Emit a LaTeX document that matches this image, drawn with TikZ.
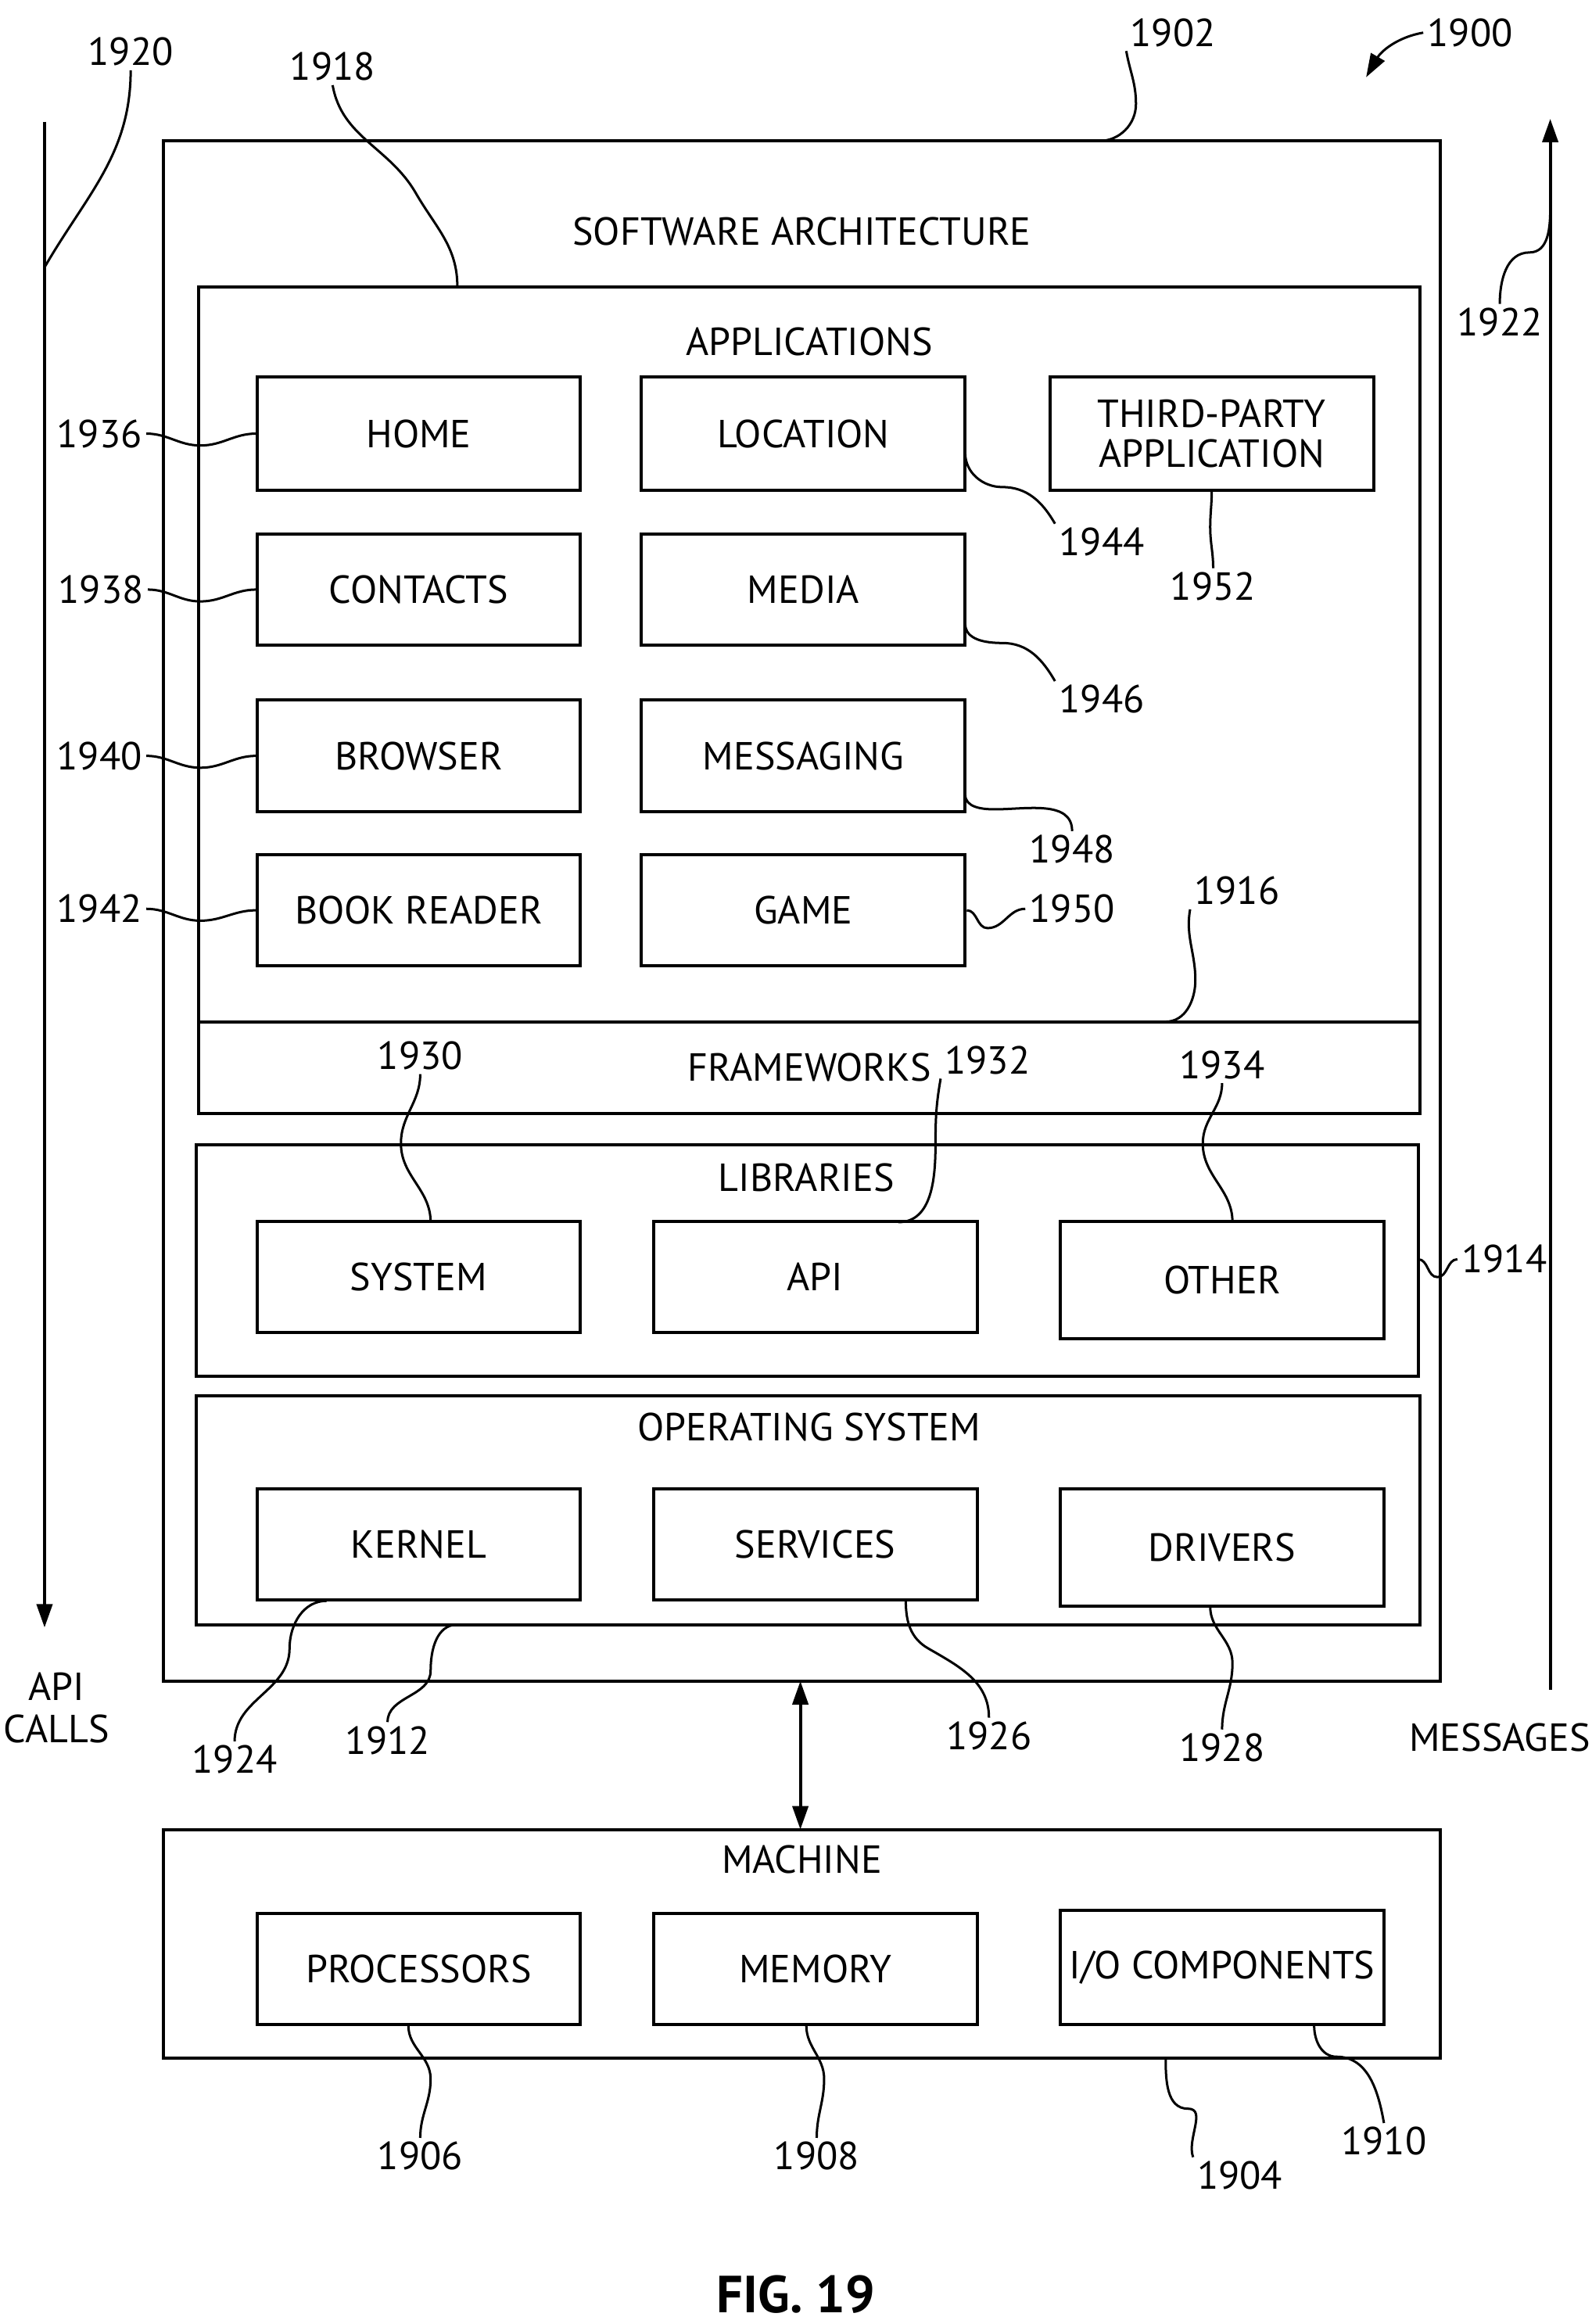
\documentclass[tikz,border=0pt]{standalone}
\usepackage{fontspec}
\setmainfont{PT Sans}
\usetikzlibrary{arrows.meta}
\begin{document}
\begin{tikzpicture}
[x=0.02cm, y=-0.02cm, line width=1.2pt,
 nodes={font=\fontsize{15}{18}\selectfont, align=center},
 blk/.style={draw, inner sep=0pt},
 lab/.style={inner sep=1pt},
 lead/.style={line width=0.9pt},
 >={Triangle[length=9pt,width=6pt]}]
\useasboundingbox (0,0) rectangle (1072,1565);

% outer frames
\draw (110,95) rectangle (970,1132);
\draw (134,193) rectangle (956,750);
\draw (134,688) -- (956,688);
\draw (132,771) rectangle (955,927);
\draw (132,940) rectangle (956,1094);
\draw (110,1232) rectangle (970,1386);

\node at (540,156) {SOFTWARE ARCHITECTURE};
\node at (545,230) {APPLICATIONS};
\node at (545,719) {FRAMEWORKS};
\node at (543,793) {LIBRARIES};
\node at (545,961) {OPERATING SYSTEM};
\node at (540,1252) {MACHINE};

% application boxes
\node[blk, minimum width=217*0.02cm, minimum height=76*0.02cm] (home) at (282,292) {HOME};
\node[blk, minimum width=218*0.02cm, minimum height=76*0.02cm] (loc) at (541,292) {LOCATION};
\node[blk, minimum width=218*0.02cm, minimum height=76*0.02cm] (third) at (816,292) {THIRD-PARTY\\[-3pt]APPLICATION};
\node[blk, minimum width=217*0.02cm, minimum height=75*0.02cm] (cont) at (282,397) {CONTACTS};
\node[blk, minimum width=218*0.02cm, minimum height=75*0.02cm] (media) at (541,397) {MEDIA};
\node[blk, minimum width=217*0.02cm, minimum height=75*0.02cm] (brow) at (282,509) {BROWSER};
\node[blk, minimum width=218*0.02cm, minimum height=75*0.02cm] (msg) at (541,509) {MESSAGING};
\node[blk, minimum width=217*0.02cm, minimum height=75*0.02cm] (book) at (282,613) {BOOK READER};
\node[blk, minimum width=218*0.02cm, minimum height=75*0.02cm] (game) at (541,613) {GAME};

% libraries / os / machine
\node[blk, minimum width=217*0.02cm, minimum height=75*0.02cm] (sys) at (282,860) {SYSTEM};
\node[blk, minimum width=218*0.02cm, minimum height=75*0.02cm] (api) at (549,860) {API};
\node[blk, minimum width=218*0.02cm, minimum height=79*0.02cm] (other) at (823,862) {OTHER};
\node[blk, minimum width=217*0.02cm, minimum height=75*0.02cm] (kern) at (282,1040) {KERNEL};
\node[blk, minimum width=218*0.02cm, minimum height=75*0.02cm] (serv) at (549,1040) {SERVICES};
\node[blk, minimum width=218*0.02cm, minimum height=79*0.02cm] (drv) at (823,1042) {DRIVERS};
\node[blk, minimum width=217*0.02cm, minimum height=75*0.02cm] (proc) at (282,1326) {PROCESSORS};
\node[blk, minimum width=218*0.02cm, minimum height=75*0.02cm] (mem) at (549,1326) {MEMORY};
\node[blk, minimum width=218*0.02cm, minimum height=77*0.02cm] (io) at (823,1325) {I/O COMPONENTS};

% side arrows
\coordinate (apiT) at (30,82);
\coordinate (apiB) at (30,1096);
\coordinate (msgB) at (1044,1138);
\coordinate (msgT) at (1044,80);
\draw[->] (apiT) -- (apiB);
\draw[->] (msgB) -- (msgT);
\node (calls) at (38,1150) {API\\[-2pt]CALLS};
\node (msgs) at (1010,1170) {MESSAGES};
\coordinate (swB) at (539,1132);
\coordinate (mcT) at (539,1232);
\draw[<->] (swB) -- (mcT);

% reference numerals
\node[lab] (n1900) at (990,22) {1900};
\node[lab] (n1902) at (790,22) {1902};
\node[lab] (n1918) at (224,45) {1918};
\node[lab] (n1920) at (88,35) {1920};
\node[lab] (n1922) at (1010,217) {1922};
\node[lab] (n1936) at (67,292) {1936};
\node[lab] (n1938) at (68,397) {1938};
\node[lab] (n1940) at (67,509) {1940};
\node[lab] (n1942) at (67,612) {1942};
\node[lab] (n1944) at (742,365) {1944};
\node[lab] (n1946) at (742,471) {1946};
\node[lab] (n1948) at (722,572) {1948};
\node[lab] (n1950) at (722,612) {1950};
\node[lab] (n1952) at (817,395) {1952};
\node[lab] (n1916) at (833,600) {1916};
\node[lab] (n1930) at (283,711) {1930};
\node[lab] (n1932) at (665,714) {1932};
\node[lab] (n1934) at (823,717) {1934};
\node[lab] (n1914) at (1013,848) {1914};
\node[lab] (n1924) at (158,1185) {1924};
\node[lab] (n1912) at (261,1172) {1912};
\node[lab] (n1926) at (666,1169) {1926};
\node[lab] (n1928) at (823,1177) {1928};
\node[lab] (n1906) at (283,1452) {1906};
\node[lab] (n1908) at (550,1452) {1908};
\node[lab] (n1904) at (835,1465) {1904};
\node[lab] (n1910) at (932,1442) {1910};
\node[font=\bfseries\fontsize{20}{24}\selectfont] (fig) at (536,1545) {FIG. 19};

% leaders
\draw[->, lead] (n1900.west) to[out=190, in=60] (920,52);
\draw[lead] (n1902.south west) to[out=-80, in=90] (765,70) to[out=-90, in=0] (740,95);
\draw[lead] (n1918.south) to[out=-80, in=120] (280,130) to[out=-60, in=90] (308,193);
\draw[lead] (n1920.south) to[out=-90, in=60] (30,180);
\draw[lead] (n1922.north) to[out=90, in=180] (1030,170) to[out=0, in=-90] (1044,140);
\draw[lead] (n1936.east) to[out=0, in=180] (135,300) to[out=0, in=180] (home.west);
\draw[lead] (n1938.east) to[out=0, in=180] (135,405) to[out=0, in=180] (cont.west);
\draw[lead] (n1940.east) to[out=0, in=180] (135,517) to[out=0, in=180] (brow.west);
\draw[lead] (n1942.east) to[out=0, in=180] (135,620) to[out=0, in=180] (book.west);
\draw[lead] (n1944.north west) to[out=120, in=0] (675,328) to[out=180, in=-90] (650,305);
\draw[lead] (n1946.north west) to[out=120, in=0] (675,433) to[out=180, in=-90] (650,420);
\draw[lead] (n1948.north) to[out=90, in=0] (670,545) to[out=180, in=-90] (650,535);
\draw[lead] (n1950.west) to[out=180, in=0] (665,625) to[out=180, in=0] (game.east);
\draw[lead] (n1952.north) to[out=90, in=-90] (815,355) to[out=90, in=-90] (third.south);
\draw[lead] (n1916.south west) to[out=-100, in=90] (805,660) to[out=-90, in=0] (785,688);
\draw[lead] (n1930.south) to[out=-90, in=90] (270,770) to[out=-90, in=90] (290,823);
\draw[lead] (n1932.south west) to[out=-100, in=90] (630,770) to[out=-90, in=0] (605,823);
\draw[lead] (n1934.south) to[out=-90, in=90] (810,770) to[out=-90, in=90] (830,823);
\draw[lead] (n1914.west) to[out=180, in=0] (968,860) to[out=180, in=0] (955,848);
\draw[lead] (n1924.north) to[out=90, in=-90] (195,1110) to[out=90, in=180] (220,1078);
\draw[lead] (n1912.north) to[out=90, in=-90] (290,1125) to[out=90, in=180] (308,1094);
\draw[lead] (n1926.north) to[out=90, in=-30] (625,1110) to[out=150, in=-90] (610,1078);
\draw[lead] (n1928.north) to[out=90, in=-90] (830,1120) to[out=90, in=-90] (815,1082);
\draw[lead] (n1906.north) to[out=90, in=-90] (290,1400) to[out=90, in=-90] (275,1364);
\draw[lead] (n1908.north) to[out=90, in=-90] (555,1400) to[out=90, in=-90] (543,1364);
\draw[lead] (n1904.north west) to[out=110, in=0] (800,1420) to[out=180, in=-90] (785,1386);
\draw[lead] (n1910.north) to[out=100, in=0] (900,1385) to[out=180, in=-90] (885,1364);
\end{tikzpicture}
\end{document}
